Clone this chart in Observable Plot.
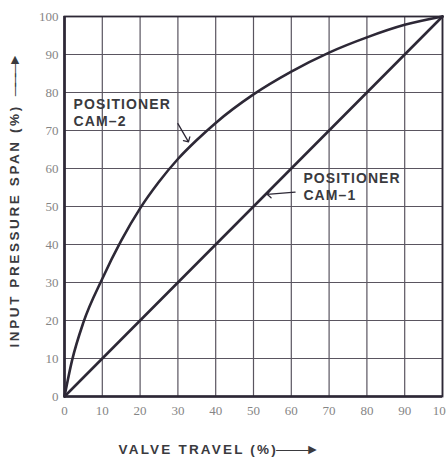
<!DOCTYPE html>
<html>
<head>
<meta charset="utf-8">
<script src="https://cdn.jsdelivr.net/npm/d3@7"></script>
<script src="https://cdn.jsdelivr.net/npm/@observablehq/plot@0.6"></script>
<style>
  html, body { margin: 0; padding: 0; background: #ffffff; overflow: hidden; }
  #chart { width: 446px; height: 462px; overflow: hidden; }
</style>
</head>
<body>
<div id="chart"></div>
<script>
// Tick values
const xTicks = [0, 10, 20, 30, 40, 50, 60, 70, 80, 90, 100];
const yTicks = [0, 10, 20, 30, 40, 50, 60, 70, 80, 90, 100];

// Positioner CAM-1 (linear)
const cam1Travel = [0, 100];
const cam1Pressure = [0, 100];

// Positioner CAM-2
const cam2Travel   = [0, 2, 5, 10, 15, 20, 25, 30, 35, 40, 50, 60, 70, 80, 90, 100];
const cam2Pressure = [0, 9.5, 19.5, 31, 41, 49.5, 56.5, 62.5, 67.5, 72, 79.5, 85.5, 90.5, 94.5, 97.8, 100];

// Annotations (data units)
const labelText = ["POSITIONER\nCAM–2", "POSITIONER\nCAM–1"];
const labelX = [2.4, 63.2];
const labelY = [78.8, 59.2];
const leaderX1 = [30.0, 61.0];
const leaderY1 = [71.8, 53.8];
const leaderX2 = [32.8, 67.0 - 13.4];
const leaderY2 = [67.0, 53.2];

const xTitle = "VALVE TRAVEL (%)";
const yTitle = "INPUT PRESSURE SPAN (%)";

const cam1 = cam1Travel.map((t, i) => ({x: t, y: cam1Pressure[i]}));
const cam2 = cam2Travel.map((t, i) => ({x: t, y: cam2Pressure[i]}));
const labels = labelText.map((t, i) => ({text: t, x: labelX[i], y: labelY[i]}));
const leaders = leaderX1.map((x1, i) => ({x1, y1: leaderY1[i], x2: leaderX2[i], y2: leaderY2[i]}));

const ink = "#2d2836";
const grid = "#5a5560";
const sans = "'Liberation Sans', Arial, sans-serif";
const serif = "'Liberation Serif', 'DejaVu Serif', serif";

const plot = Plot.plot({
  width: 446,
  height: 462,
  marginLeft: 64,
  marginRight: 4,
  marginTop: 16,
  marginBottom: 66,
  style: {background: "#ffffff", overflow: "hidden"},
  x: {domain: [0, 100]},
  y: {domain: [0, 100]},
  marks: [
    Plot.gridX(xTicks, {stroke: grid, strokeOpacity: 1, strokeWidth: 1.2}),
    Plot.gridY(yTicks, {stroke: grid, strokeOpacity: 1, strokeWidth: 1.2}),
    Plot.axisX(xTicks, {tickSize: 0, tickPadding: 9, fontFamily: serif, fontSize: 13, fill: "#858585", label: null}),
    Plot.axisY(yTicks, {tickSize: 0, tickPadding: 6, fontFamily: serif, fontSize: 13, fill: "#858585", label: null}),
    Plot.frame({stroke: ink, strokeWidth: 1.8}),
    Plot.ruleX([0], {stroke: ink, strokeWidth: 2.6}),
    Plot.ruleY([0], {stroke: ink, strokeWidth: 2.6}),
    Plot.line(cam1, {x: "x", y: "y", stroke: ink, strokeWidth: 2.6}),
    Plot.line(cam2, {x: "x", y: "y", stroke: ink, strokeWidth: 2.6, curve: "monotone-x"}),
    Plot.arrow(leaders, {x1: "x1", y1: "y1", x2: "x2", y2: "y2", stroke: ink, strokeWidth: 1.3, headLength: 6, headAngle: 90}),
    Plot.text(labels, {x: "x", y: "y", text: "text", textAnchor: "start", lineAnchor: "top", lineHeight: 1.2,
      fontFamily: sans, fontSize: 14, fontWeight: "bold", fill: "#3a3a3e"}),
    Plot.text([xTitle], {frameAnchor: "bottom-left", dx: 54, dy: 57, textAnchor: "start",
      fontFamily: sans, fontSize: 13.5, fontWeight: "bold", fill: "#3a3a3e"}),
    Plot.text([yTitle], {frameAnchor: "bottom-left", dx: -46, dy: -49, textAnchor: "start", rotate: -90,
      fontFamily: sans, fontSize: 13.5, fontWeight: "bold", fill: "#3a3a3e"})
  ]
});

function addArrow(textEl, gapPx) {
  const sel = d3.select(textEl);
  sel.append("tspan").attr("dx", gapPx).style("letter-spacing", "-4px").style("font-weight", "normal").text("———");
  sel.append("tspan").attr("dx", 1).attr("dy", 0.5).style("letter-spacing", "0px").style("font-size", "14px")
    .attr("transform", null).text("►");
}

d3.select(plot).selectAll("text").each(function() {
  const t = this.textContent;
  if (t.startsWith("VALVE")) { this.style.letterSpacing = "2.2px"; addArrow(this, -2); }
  else if (t.startsWith("INPUT")) { this.style.letterSpacing = "2.6px"; addArrow(this, 8); }
  else if (t.startsWith("POSITIONER")) this.style.letterSpacing = "1.1px";
});

document.getElementById("chart").appendChild(plot);
</script>
</body>
</html>
